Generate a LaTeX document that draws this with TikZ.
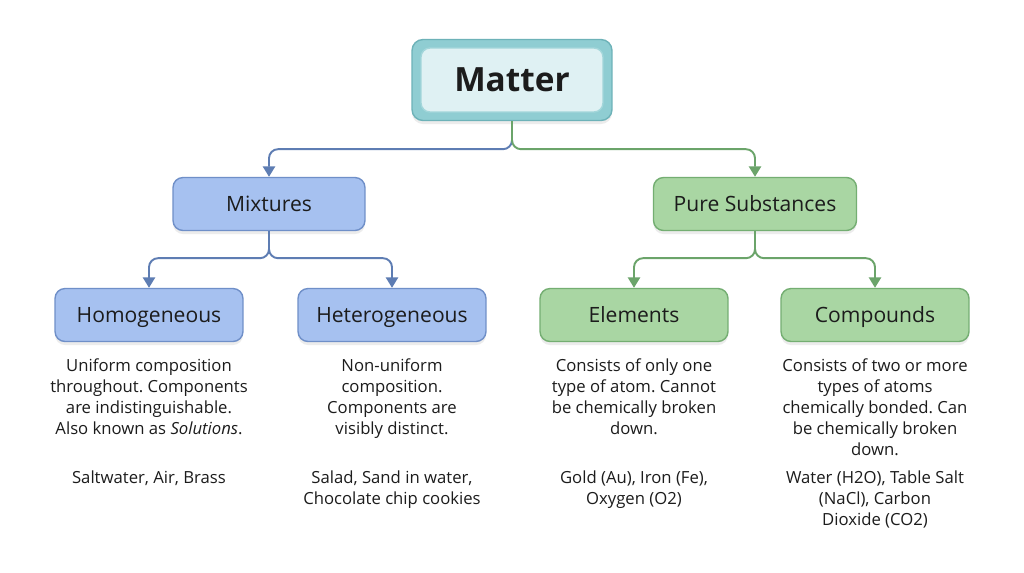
\documentclass[tikz,border=0pt]{standalone}
\usepackage{fontspec}
\setmainfont{Open Sans}
\usetikzlibrary{positioning,arrows.meta,shadows}
\frenchspacing

\definecolor{mixfill}{HTML}{A6C1F0}
\definecolor{mixline}{HTML}{6F8FC8}
\definecolor{purefill}{HTML}{A9D6A3}
\definecolor{pureline}{HTML}{74AE72}
\definecolor{tealout}{HTML}{8FCDD2}
\definecolor{tealoutline}{HTML}{6DB2B8}
\definecolor{tealin}{HTML}{DFF1F3}
\definecolor{tealinline}{HTML}{A3D6DA}
\definecolor{txt}{HTML}{1C1C1C}
\definecolor{mixarrow}{HTML}{5E7DB3}
\definecolor{purearrow}{HTML}{6BA46A}

\tikzset{
  catbox/.style={rounded corners=0.2cm, line width=0.8pt, text=txt,
    minimum width=3.76cm, minimum height=1.06cm,
    text height=8.6pt, text depth=0pt,
    font=\fontsize{12}{14}\selectfont,
    drop shadow={shadow xshift=0pt, shadow yshift=-2pt, opacity=0.15}},
  mixbox/.style={catbox, draw=mixline, fill=mixfill},
  purebox/.style={catbox, draw=pureline, fill=purefill},
  desc/.style={align=center, text=txt, inner sep=0pt,
    font=\fontsize{9.5}{12}\selectfont},
  conn/.style={line width=1.1pt, rounded corners=0.18cm,
    -{Triangle[length=6pt,width=7pt]}}
}

\begin{document}
\begin{tikzpicture}[x=0.02cm,y=-0.02cm]
\useasboundingbox[fill=white] (0,0) rectangle (1024,572);
% top node
\node[rounded corners=0.22cm, draw=tealoutline, fill=tealout, line width=0.8pt,
  minimum width=4cm, minimum height=1.62cm,
  drop shadow={shadow xshift=0pt, shadow yshift=-2pt, opacity=0.15}]
  (matterbg) at (512,80) {};
\node[rounded corners=0.18cm, draw=tealinline, fill=tealin, line width=0.8pt,
  minimum width=3.64cm, minimum height=1.28cm, text=txt,
  font=\fontsize{19}{23}\selectfont\bfseries] (matter) at (512,80) {Matter};

% second row
\node[mixbox, minimum width=3.84cm] (mix) at (269,204) {Mixtures};
\node[purebox, minimum width=4.06cm] (pure) at (755,204) {Pure Substances};

% third row
\node[mixbox] (hom) at (149,315) {Homogeneous};
\node[mixbox] (het) at (392,315) {Heterogeneous};
\node[purebox] (elem) at (634,315) {Elements};
\node[purebox] (comp) at (875,315) {Compounds};

% connectors
\draw[conn, mixarrow] (matterbg.south) -- ++(0,28) -| (mix.north);
\draw[conn, purearrow] (matterbg.south) -- ++(0,28) -| (pure.north);
\draw[conn, mixarrow] (mix.south) -- ++(0,27) -| (hom.north);
\draw[conn, mixarrow] (mix.south) -- ++(0,27) -| (het.north);
\draw[conn, purearrow] (pure.south) -- ++(0,27) -| (elem.north);
\draw[conn, purearrow] (pure.south) -- ++(0,27) -| (comp.north);

% descriptions
\node[desc, anchor=north] (homtxt) at (149,358)
  {Uniform composition\\throughout. Components\\are indistinguishable.\\Also known as \textit{Solutions}.};
\node[desc, anchor=north] (hettxt) at (392,358)
  {Non-uniform\\composition.\\Components are\\visibly distinct.};
\node[desc, anchor=north] (elemtxt) at (634,358)
  {Consists of only one\\type of atom. Cannot\\be chemically broken\\down.};
\node[desc, anchor=north] (comptxt) at (875,358)
  {Consists of two or more\\types of atoms\\chemically bonded. Can\\be chemically broken\\down.};

% examples
\node[desc, anchor=north] (homex) at (149,470) {Saltwater, Air, Brass};
\node[desc, anchor=north] (hetex) at (392,470) {Salad, Sand in water,\\Chocolate chip cookies};
\node[desc, anchor=north] (elemex) at (634,470) {Gold (Au), Iron (Fe),\\Oxygen (O2)};
\node[desc, anchor=north] (compex) at (875,470) {Water (H2O), Table Salt\\(NaCl), Carbon\\Dioxide (CO2)};
\end{tikzpicture}
\end{document}
